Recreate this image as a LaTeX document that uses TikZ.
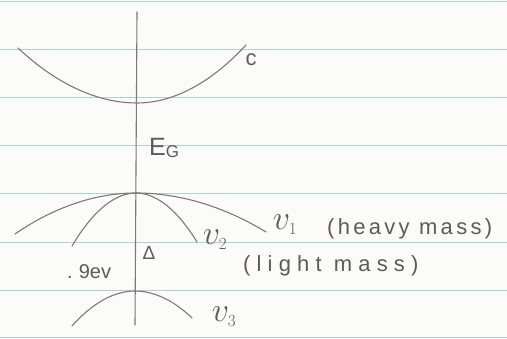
\RequirePackage{fix-cm}
\documentclass[tikz,border=0pt]{standalone}
\usepackage{fontspec}
\setmainfont{Liberation Sans}
\definecolor{paper}{RGB}{251,251,249}
\definecolor{ruleblue}{RGB}{178,208,218}
\definecolor{pencilgray}{RGB}{128,120,116}
\definecolor{inkgray}{RGB}{96,90,88}
\begin{document}
\begin{tikzpicture}[x=1pt,y=-1pt,
  pencil/.style={draw=pencilgray, line width=1.1pt, line cap=round},
  rulingline/.style={draw=ruleblue, line width=0.9pt},
  hand/.style={text=inkgray, inner sep=0pt},
  vlabel/.style={hand, font=\fontsize{34}{34}\selectfont}]
\fill[paper] (0,0) rectangle (507,339);
\useasboundingbox (0,0) rectangle (507,339);
% ruled paper
\foreach \yy in {1,49,97,145,193,242,290,337}
  \draw[rulingline] (0,\yy) -- (507,\yy);
% axis
\coordinate (axtop) at (137,12);
\coordinate (axbot) at (135,325);
\draw[pencil] (axtop) -- (axbot);
% conduction band
\draw[pencil] (18,48) parabola bend (137,103) (246,45);
% heavy hole band v1
\draw[pencil] (15,234) parabola bend (136,193) (266,232);
% light hole band v2
\draw[pencil] (72,246) parabola bend (136,193) (197,242);
% split-off band v3
\draw[pencil] (72,326) parabola bend (135,291) (192,318);
% labels
\node[hand, font=\fontsize{22}{22}\selectfont] (lc) at (251,60) {c};
\node[hand, anchor=west, font=\fontsize{25}{25}\selectfont] (leg) at (149,148) {E\raisebox{-0.2ex}{\fontsize{17}{17}\selectfont G}};
\node[hand, font=\fontsize{19}{19}\selectfont] (ldelta) at (149,253) {Δ};
\node[hand, anchor=west, font=\fontsize{20}{20}\selectfont] (lsplit) at (67,272) {.\hspace{6pt}9ev};
\node[vlabel] (lv1) at (285,225) {$v_{\scriptscriptstyle 1}$};
\node[hand, anchor=west, font=\fontsize{22}{22}\selectfont\addfontfeature{LetterSpace=15}] (lheavy) at (327,229) {(heavy mass)};
\node[vlabel] (lv2) at (215,240) {$v_{\scriptscriptstyle 2}$};
\node[hand, anchor=west, font=\fontsize{22}{22}\selectfont\addfontfeature{LetterSpace=28}] (llight) at (243,266) {(light mass)};
\node[vlabel] (lv3) at (224,317) {$v_{\scriptscriptstyle 3}$};
\end{tikzpicture}
\end{document}
